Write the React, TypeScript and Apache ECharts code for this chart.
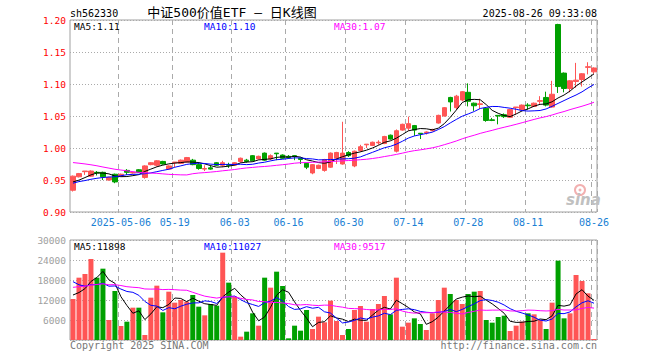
import React, { useEffect, useRef } from "react";
import * as echarts from "echarts";

const dates = [
  "2025-04-21","2025-04-22","2025-04-23","2025-04-24","2025-04-25","2025-04-28","2025-04-29","2025-04-30",
  "2025-05-06","2025-05-07","2025-05-08","2025-05-09","2025-05-12","2025-05-13","2025-05-14","2025-05-15","2025-05-16",
  "2025-05-19","2025-05-20","2025-05-21","2025-05-22","2025-05-23","2025-05-26","2025-05-27","2025-05-28","2025-05-29","2025-05-30",
  "2025-06-03","2025-06-04","2025-06-05","2025-06-06","2025-06-09","2025-06-10","2025-06-11","2025-06-12","2025-06-13",
  "2025-06-16","2025-06-17","2025-06-18","2025-06-19","2025-06-20","2025-06-23","2025-06-24","2025-06-25","2025-06-26","2025-06-27",
  "2025-06-30","2025-07-01","2025-07-02","2025-07-03","2025-07-04","2025-07-07","2025-07-08","2025-07-09","2025-07-10","2025-07-11",
  "2025-07-14","2025-07-15","2025-07-16","2025-07-17","2025-07-18","2025-07-21","2025-07-22","2025-07-23","2025-07-24","2025-07-25",
  "2025-07-28","2025-07-29","2025-07-30","2025-07-31","2025-08-01","2025-08-04","2025-08-05","2025-08-06","2025-08-07","2025-08-08",
  "2025-08-11","2025-08-12","2025-08-13","2025-08-14","2025-08-15","2025-08-18","2025-08-19","2025-08-20","2025-08-21","2025-08-22",
  "2025-08-25","2025-08-26"
];

const tickDates = ["2025-05-06","2025-05-19","2025-06-03","2025-06-16","2025-06-30","2025-07-14","2025-07-28","2025-08-11","2025-08-26"];

const opens = [
  0.934,0.955,0.963,0.956,0.962,0.962,0.950,0.959,0.956,0.965,0.961,0.966,0.954,0.974,0.973,0.979,0.967,0.977,0.976,0.978,
  0.981,0.974,0.967,0.969,0.977,0.973,0.974,0.973,0.979,0.981,0.988,0.983,0.992,0.983,0.992,0.989,0.987,0.988,0.984,0.976,
  0.961,0.968,0.965,0.970,0.984,0.975,0.993,0.972,0.996,1.005,1.004,1.008,1.007,1.020,0.995,1.028,1.031,1.035,1.023,1.024,
  1.027,1.039,1.050,1.079,1.063,1.075,1.087,1.070,1.068,1.062,1.044,1.051,1.052,1.048,1.063,1.060,1.067,1.065,1.073,1.079,
  1.064,1.193,1.117,1.093,1.104,1.107,1.126,1.119
];
const closes = [
  0.956,0.960,0.964,0.964,0.961,0.955,0.954,0.947,0.959,0.962,0.962,0.962,0.972,0.977,0.980,0.975,0.972,0.978,0.981,0.985,
  0.974,0.968,0.968,0.967,0.973,0.977,0.973,0.977,0.984,0.979,0.980,0.987,0.981,0.988,0.991,0.984,0.985,0.987,0.982,0.970,
  0.974,0.973,0.982,0.992,0.993,0.992,0.988,0.995,1.002,1.006,1.009,1.009,1.018,1.014,1.027,1.037,1.038,1.028,1.022,1.025,
  1.029,1.051,1.063,1.072,1.081,1.088,1.073,1.066,1.069,1.043,1.043,1.050,1.049,1.060,1.064,1.067,1.066,1.070,1.074,1.067,
  1.084,1.096,1.093,1.105,1.106,1.116,1.127,1.125
];
const lows = [
  0.932,0.954,0.958,0.955,0.957,0.950,0.949,0.945,0.955,0.958,0.960,0.961,0.952,0.973,0.971,0.974,0.966,0.970,0.975,0.977,
  0.973,0.966,0.964,0.966,0.972,0.970,0.969,0.972,0.977,0.977,0.979,0.982,0.980,0.981,0.981,0.983,0.983,0.981,0.975,0.967,
  0.959,0.967,0.963,0.969,0.975,0.974,0.986,0.970,0.994,1.000,1.003,1.005,1.006,1.013,0.993,1.027,1.027,1.019,1.014,1.021,
  1.026,1.038,1.049,1.057,1.060,1.073,1.065,1.058,1.061,1.041,1.042,1.037,1.047,1.047,1.052,1.059,1.060,1.064,1.069,1.065,
  1.063,1.086,1.087,1.087,1.094,1.096,1.115,1.116
];
const highs = [
  0.957,0.961,0.964,0.965,0.964,0.963,0.955,0.960,0.960,0.967,0.963,0.967,0.973,0.978,0.981,0.980,0.973,0.978,0.982,0.986,
  0.983,0.978,0.973,0.973,0.978,0.980,0.977,0.978,0.985,0.983,0.989,0.988,0.993,0.990,0.992,0.990,0.989,0.988,0.985,0.977,
  0.975,0.974,0.983,0.993,0.994,1.041,0.995,0.996,1.005,1.006,1.010,1.012,1.019,1.021,1.029,1.038,1.049,1.036,1.023,1.026,
  1.030,1.052,1.064,1.080,1.083,1.089,1.101,1.071,1.077,1.063,1.047,1.051,1.054,1.061,1.064,1.068,1.070,1.071,1.081,1.088,
  1.105,1.194,1.118,1.106,1.133,1.117,1.134,1.126
];
const volumes = [
  12300,18700,19800,24300,18700,21400,6000,14700,4200,5500,9700,9700,1500,12700,16300,8300,14500,11200,12000,11500,
  13500,10000,7400,10800,10300,26200,17200,13000,1000,2500,8000,4300,18700,15700,20500,16200,500,4300,2800,9000,
  3300,7000,5300,11800,5700,1500,3300,9000,10200,5500,9300,10800,13200,7700,18700,4000,5200,6500,4800,3000,
  8000,12000,15700,13800,12000,10800,13800,14500,14700,6000,5200,6900,7300,2700,4300,5500,8000,7700,6000,3300,
  11200,23800,6500,8000,19500,17700,14000,300
];

// history before the first visible day (used only for the moving averages)
const prevCloses = [
  0.990,0.998,1.004,1.008,1.012,1.006,1.000,0.995,0.999,1.003,0.996,0.992,0.988,0.994,0.998,0.995,0.990,0.993,0.988,
  0.918,0.935,0.948,0.944,0.945,0.943,0.946,0.944,0.943,0.946
];
const prevVolumes = [
  13000,15500,14200,12800,16000,14500,13200,12500,15800,14800,13600,12900,14100,15200,13800,12600,14000,15500,13000,
  32000,28000,24000,20000,18500,17000,15000,14000,13500,12700
];

const maPeriods = [5, 10, 30];
const maColors = ["#000000", "#0000ff", "#ff00ff"];
const priceMaLabels = ["1.11", "1.10", "1.07"];
const volMaLabels = ["11898", "11027", "9517"];

const priceTicks = [0.9, 1.2, 0.05];
const volTicks = [0, 30000, 6000];

const UP = "#ff5555";
const DOWN = "#00a000";
const MONO = "'DejaVu Sans Mono', monospace";

function movingAverage(prev: number[], cur: number[], n: number): number[] {
  const all = prev.concat(cur);
  const off = prev.length;
  return cur.map((_, i) => {
    let s = 0;
    for (let k = off + i - n + 1; k <= off + i; k++) s += all[k];
    return s / n;
  });
}

export default function App() {
  const ref = useRef<HTMLDivElement>(null);
  useEffect(() => {
    const chart = echarts.init(ref.current as HTMLDivElement, null, { renderer: "svg" });
    const kData = opens.map((o, i) => [o, closes[i], lows[i], highs[i]]);
    const volData = volumes.map((v, i) => ({
      value: v,
      itemStyle: { color: closes[i] >= opens[i] ? UP : DOWN },
    }));
    const isTick = (idx: number, val: string) => tickDates.indexOf(val) >= 0;

    const xBase = (gridIndex: number, showLabel: boolean) => ({
      type: "category",
      gridIndex,
      data: dates,
      boundaryGap: true,
      axisLine: { show: false },
      axisTick: { show: false },
      axisLabel: {
        show: showLabel,
        interval: isTick,
        color: "#1a7fd4",
        fontFamily: MONO,
        fontSize: 10,
        margin: 5,
        formatter: (v: string) => (v === tickDates[0] ? v : v.slice(5)),
      },
      splitLine: {
        show: true,
        interval: isTick,
        lineStyle: { color: "#aaaaaa", type: [5, 4], width: 1 },
      },
    });

    const priceMAs = maPeriods.map((n, k) => ({
      type: "line",
      xAxisIndex: 0,
      yAxisIndex: 0,
      data: movingAverage(prevCloses, closes, n),
      showSymbol: false,
      lineStyle: { color: maColors[k], width: 1 },
      itemStyle: { color: maColors[k] },
      z: 3,
    }));
    const volMAs = maPeriods.map((n, k) => ({
      type: "line",
      xAxisIndex: 1,
      yAxisIndex: 1,
      data: movingAverage(prevVolumes, volumes, n),
      showSymbol: false,
      lineStyle: { color: maColors[k], width: 1 },
      itemStyle: { color: maColors[k] },
      z: 3,
    }));

    const txt = (text: string, x: number, y: number, fill: string, size: number, align = "left", family = MONO) => ({
      type: "text",
      x,
      y,
      style: {
        text,
        fill,
        fontSize: size,
        fontFamily: family,
        textAlign: align,
        align,
        textVerticalAlign: "middle",
        verticalAlign: "middle",
      },
      z: 10,
    });

    const legendX = [74, 204, 334];
    const graphics: any[] = [
      txt("sh562330", 70, 13, "#000", 10),
      txt("中证500价值ETF — 日K线图", 232, 12, "#000", 13, "center", "'DejaVu Sans Mono', 'Noto Sans CJK SC'"),
      txt("2025-08-26 09:33:08", 597, 13, "#000", 10, "right"),
      txt("Copyright 2025 SINA.COM", 70, 345, "#777", 10),
      txt("http://finance.sina.com.cn", 597, 345, "#777", 10, "right"),
    ];
    maPeriods.forEach((n, k) => {
      graphics.push(txt(`MA${n}:${priceMaLabels[k]}`, legendX[k], 26, maColors[k], 9.5));
      graphics.push(txt(`MA${n}:${volMaLabels[k]}`, legendX[k], 246, maColors[k], 9.5));
    });
    // sina watermark
    graphics.push({
      type: "circle",
      shape: { cx: 580, cy: 190, r: 5 },
      style: { fill: "none", stroke: "#f2b0b0", lineWidth: 2 },
      z: 1,
    });
    graphics.push({
      type: "circle",
      shape: { cx: 580, cy: 190, r: 1.5 },
      style: { fill: "#f2b0b0" },
      z: 1,
    });
    graphics.push({
      type: "text",
      x: 566,
      y: 200,
      style: {
        text: "sina",
        fill: "#c0c0c0",
        fontSize: 15,
        fontStyle: "italic",
        fontWeight: "bold",
        fontFamily: "'DejaVu Sans', sans-serif",
        textVerticalAlign: "middle",
        verticalAlign: "middle",
      },
      z: 1,
    });

    const option: any = {
      animation: false,
      backgroundColor: "#ffffff",
      grid: [
        { left: 70, top: 20, width: 527, height: 192, show: true, borderColor: "#a0a0a0", borderWidth: 1 },
        { left: 70, top: 240, width: 527, height: 100, show: true, borderColor: "#a0a0a0", borderWidth: 1 },
      ],
      xAxis: [xBase(0, true), xBase(1, false)],
      yAxis: [
        {
          type: "value",
          gridIndex: 0,
          min: priceTicks[0],
          max: priceTicks[1],
          interval: priceTicks[2],
          axisLine: { show: false },
          axisTick: { show: false },
          axisLabel: {
            color: "#ff0000",
            fontFamily: MONO,
            fontSize: 9.5,
            margin: 4,
            formatter: (v: number) => v.toFixed(2),
          },
          splitLine: { lineStyle: { color: "#aaaaaa", type: [1, 2] } },
        },
        {
          type: "value",
          gridIndex: 1,
          min: volTicks[0],
          max: volTicks[1],
          interval: volTicks[2],
          axisLine: { show: false },
          axisTick: { show: false },
          axisLabel: {
            color: "#a0a0a0",
            fontFamily: MONO,
            fontSize: 9.5,
            margin: 4,
            formatter: (v: number) => (v === 0 ? "" : String(v)),
          },
          splitLine: { lineStyle: { color: "#aaaaaa", type: [1, 2] } },
        },
      ],
      series: [
        {
          type: "candlestick",
          xAxisIndex: 0,
          yAxisIndex: 0,
          data: kData,
          barWidth: 5,
          itemStyle: {
            color: UP,
            color0: DOWN,
            borderColor: UP,
            borderColor0: DOWN,
            borderWidth: 1,
          },
          z: 2,
        },
        ...priceMAs,
        {
          type: "bar",
          xAxisIndex: 1,
          yAxisIndex: 1,
          data: volData,
          barWidth: 5,
          z: 2,
        },
        ...volMAs,
      ],
      graphic: graphics,
    };
    chart.setOption(option);
    return () => chart.dispose();
  }, []);
  return (
    <div
      ref={ref}
      style={{ position: "fixed", left: 0, top: 0, width: 660, height: 360, background: "#fff" }}
    />
  );
}
